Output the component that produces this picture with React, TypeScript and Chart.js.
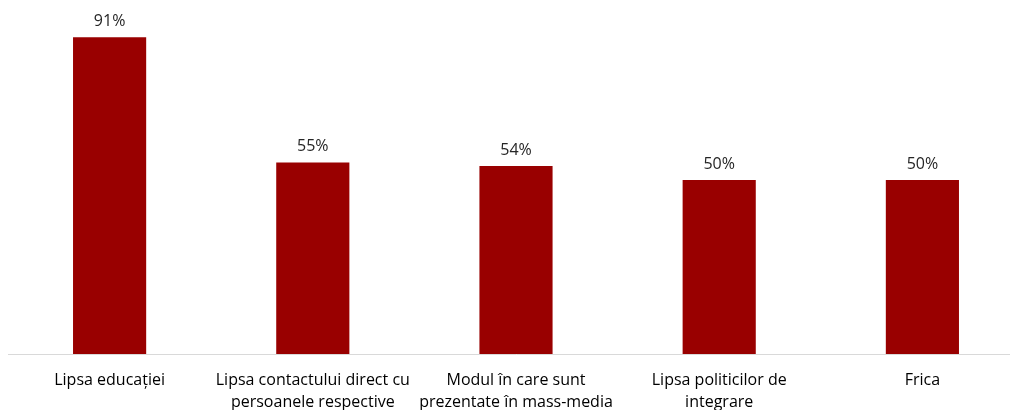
import React, { useEffect, useRef } from "react";
import { Chart, registerables } from "chart.js";

Chart.register(...registerables);

const categories: (string | string[])[] = [
  "Lipsa educației",
  ["Lipsa contactului direct cu", "persoanele respective"],
  ["Modul în care sunt", "prezentate în mass-media"],
  ["Lipsa politicilor de", "integrare"],
  "Frica",
];
const values = [91, 55, 54, 50, 50];
const valueLabels = ["91%", "55%", "54%", "50%", "50%"];

const FONT = "'Open Sans', Lato, sans-serif";

const valueLabelPlugin = {
  id: "valueLabels",
  afterDatasetsDraw(chart: any) {
    const ctx = chart.ctx;
    const meta = chart.getDatasetMeta(0);
    ctx.save();
    ctx.font = `16px ${FONT}`;
    ctx.fillStyle = "#262626";
    ctx.textAlign = "center";
    ctx.textBaseline = "middle";
    meta.data.forEach((bar: any, i: number) => {
      ctx.fillText(valueLabels[i], bar.x, bar.y - 16);
    });
    ctx.restore();
  },
};

export default function App() {
  const ref = useRef<HTMLCanvasElement>(null);
  useEffect(() => {
    if (!ref.current) return;
    const chart = new Chart(ref.current, {
      type: "bar",
      data: {
        labels: categories,
        datasets: [
          {
            data: values,
            backgroundColor: "#990000",
            barPercentage: 0.36,
            categoryPercentage: 1,
          },
        ],
      },
      options: {
        animation: false,
        responsive: false,
        maintainAspectRatio: false,
        layout: { padding: { top: 6, left: 0, right: 0, bottom: 0 } },
        plugins: {
          legend: { display: false },
          tooltip: { enabled: false },
        },
        scales: {
          x: {
            grid: { display: false, drawTicks: false },
            border: { display: true, color: "#d9d9d9", width: 1 },
            ticks: {
              autoSkip: false,
              maxRotation: 0,
              minRotation: 0,
              padding: 15,
              color: "#000000",
              font: { family: FONT, size: 16, lineHeight: 1.4 },
            },
            afterFit(scale: any) {
              scale.height = 76;
            },
          },
          y: {
            display: false,
            min: 0,
            max: 100,
          },
        },
      },
      plugins: [valueLabelPlugin],
    });
    return () => chart.destroy();
  }, []);
  return (
    <div
      style={{
        position: "fixed",
        left: 0,
        top: 0,
        width: 1010,
        height: 410,
        overflow: "hidden",
        background: "#fff",
      }}
    >
      <canvas
        ref={ref}
        width={1016}
        height={430}
        style={{ position: "absolute", left: 8, top: 0, width: 1016, height: 430 }}
      />
    </div>
  );
}
